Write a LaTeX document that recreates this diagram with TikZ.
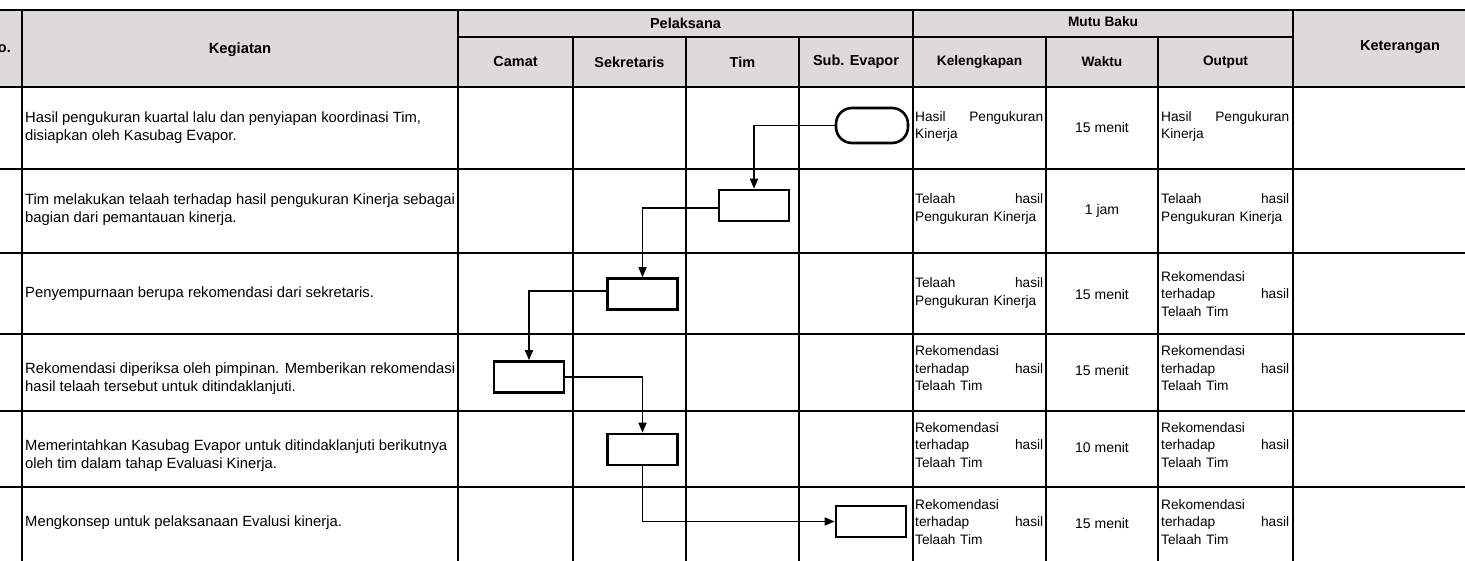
\documentclass[tikz,border=0pt]{standalone}
\usepackage{fontspec}
\setmainfont{Liberation Sans}
\usetikzlibrary{arrows.meta}
\newcommand\jline[2]{\makebox[128pt][l]{#1\hfill #2}}
\definecolor{hdrgray}{HTML}{DEDAD9}
\tikzset{
  grid/.style={line width=1.8pt},
  txt/.style={font=\fontsize{14}{17.5}\selectfont, inner sep=0pt},
  hdr/.style={font=\bfseries\fontsize{14.5}{17.5}\selectfont, inner sep=0pt},
  hdrm/.style={font=\bfseries\fontsize{13.7}{17.5}\selectfont, inner sep=0pt},
  kcell/.style={font=\fontsize{14.8}{18}\selectfont, inner sep=0pt, anchor=west, align=left},
  mcell/.style={font=\fontsize{13.7}{17.5}\selectfont, inner sep=0pt, anchor=west, text width=128pt, align=left},
  proc/.style={draw, line width=2.6pt, minimum width=70pt, minimum height=31pt, inner sep=0pt},
  term/.style={draw, line width=2.6pt, rounded corners=16pt, minimum width=72pt, minimum height=35pt, inner sep=0pt},
  flow/.style={line width=1.6pt, -{Triangle[length=10pt,width=8pt]}}
}
\begin{document}
\begin{tikzpicture}[x=1pt,y=-1pt]
\clip (0,0) rectangle (1465,560);
\fill[white] (0,0) rectangle (1465,560);
% header background
\fill[hdrgray] (-10,10) rectangle (1510,87);
% table grid
\draw[grid] (-10,10) -- (1510,10);
\draw[grid] (458,37) -- (1293,37);
\foreach \y in {87,169,253,334,411,487,565} \draw[grid] (-10,\y) -- (1510,\y);
\foreach \x in {22,458,913,1293} \draw[grid] (\x,10) -- (\x,565);
\foreach \x in {573,686,799,1046,1158} \draw[grid] (\x,37) -- (\x,565);
% header texts
\node[hdr, anchor=east] (hno) at (11,48) {No.};
\node[hdr, font=\bfseries\fontsize{14.8}{18}\selectfont] (hkeg) at (240,50) {Kegiatan};
\node[hdr] (hpel) at (685.5,23) {Pelaksana};
\node[hdrm] (hmutu) at (1103,22) {Mutu Baku};
\node[hdr] (hket) at (1400,47) {Keterangan};
\node[hdr] (hcam) at (515.5,62) {Camat};
\node[hdr] (hsek) at (629.5,62) {Sekretaris};
\node[hdr] (htim) at (742.5,62) {Tim};
\node[hdr] (hsub) at (856,62) {Sub. Evapor};
\node[hdrm] (hkel) at (979.5,62) {Kelengkapan};
\node[hdrm] (hwak) at (1102,62) {Waktu};
\node[hdrm] (hout) at (1225.5,62) {Output};
% Kegiatan
\node[kcell] (k1) at (25,128) {Hasil pengukuran kuartal lalu dan penyiapan koordinasi Tim,\\disiapkan oleh Kasubag Evapor.};
\node[kcell] (k2) at (25,210) {Tim melakukan telaah terhadap hasil pengukuran Kinerja sebagai\\bagian dari pemantauan kinerja.};
\node[kcell] (k3) at (25,293.5) {Penyempurnaan berupa rekomendasi dari sekretaris.};
\node[kcell] (k4) at (25,379) {Rekomendasi diperiksa oleh pimpinan. Memberikan rekomendasi\\hasil telaah tersebut untuk ditindaklanjuti.};
\node[kcell] (k5) at (25,456) {Memerintahkan Kasubag Evapor untuk ditindaklanjuti berikutnya\\oleh tim dalam tahap Evaluasi Kinerja.};
\node[kcell] (k6) at (25,523) {Mengkonsep untuk pelaksanaan Evalusi kinerja.};
% Kelengkapan
\node[mcell] (l1) at (915,126.5) {\jline{Hasil}{Pengukuran}\\Kinerja};
\node[mcell] (l2) at (915,209) {\jline{Telaah}{hasil}\\Pengukuran Kinerja};
\node[mcell] (l3) at (915,293) {\jline{Telaah}{hasil}\\Pengukuran Kinerja};
\node[mcell] (l4) at (915,368.5) {Rekomendasi\\\jline{terhadap}{hasil}\\Telaah Tim};
\node[mcell] (l5) at (915,445) {Rekomendasi\\\jline{terhadap}{hasil}\\Telaah Tim};
\node[mcell] (l6) at (915,522) {Rekomendasi\\\jline{terhadap}{hasil}\\Telaah Tim};
% Waktu
\node[txt] (w1) at (1102,127) {15 menit};
\node[txt] (w2) at (1102,211) {1 jam};
\node[txt] (w3) at (1102,294) {15 menit};
\node[txt] (w4) at (1102,370) {15 menit};
\node[txt] (w5) at (1102,447) {10 menit};
\node[txt] (w6) at (1102,523) {15 menit};
% Output
\node[mcell] (o1) at (1161,126.5) {\jline{Hasil}{Pengukuran}\\Kinerja};
\node[mcell] (o2) at (1161,209) {\jline{Telaah}{hasil}\\Pengukuran Kinerja};
\node[mcell] (o3) at (1161,294) {Rekomendasi\\\jline{terhadap}{hasil}\\Telaah Tim};
\node[mcell] (o4) at (1161,368.5) {Rekomendasi\\\jline{terhadap}{hasil}\\Telaah Tim};
\node[mcell] (o5) at (1161,445) {Rekomendasi\\\jline{terhadap}{hasil}\\Telaah Tim};
\node[mcell] (o6) at (1161,522) {Rekomendasi\\\jline{terhadap}{hasil}\\Telaah Tim};
% flowchart
\node[term] (t1) at (872,125.5) {};
\node[proc] (r2) at (754,205.5) {};
\node[proc] (r3) at (642.5,294) {};
\node[proc] (r4) at (529,377) {};
\node[proc] (r5) at (642.5,449.5) {};
\node[proc] (r6) at (871,521.5) {};
\draw[flow] (t1.west) -| (r2.north);
\draw[flow] ([yshift=-2.5pt]r2.west) -| (r3.north);
\draw[flow] ([yshift=3pt]r3.west) -| (r4.north);
\draw[flow] (r4.east) -| (r5.north);
\draw[flow] (r5.south) |- (r6.west);
\end{tikzpicture}
\end{document}
